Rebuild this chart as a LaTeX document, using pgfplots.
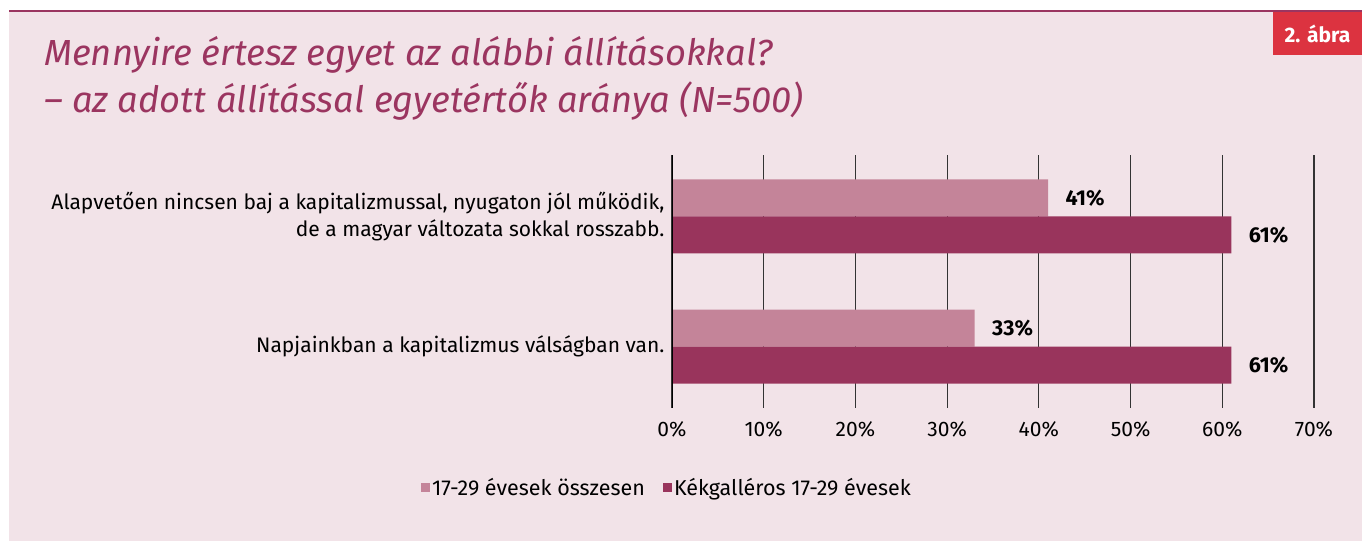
\documentclass[border=0pt]{standalone}
\usepackage{pgfplots}
\pgfplotsset{compat=1.18}
\usepackage{fontspec}
\setmainfont{Fira Sans}
\definecolor{bgpink}{HTML}{F2E3E8}
\definecolor{titlecol}{HTML}{9B3560}
\definecolor{lightbar}{HTML}{C48499}
\definecolor{darkbar}{HTML}{99345C}
\definecolor{badge}{HTML}{DC3340}
\definecolor{gridc}{HTML}{333333}
\begin{document}
\begin{tikzpicture}[x=1pt,y=1pt]
\fill[white] (0,0) rectangle (1362,-541);
\path[use as bounding box] (0,0) rectangle (1362,-541);
\fill[bgpink] (9,-11) rectangle (1362,-541);
\draw[titlecol, line width=2pt] (9,-11) -- (1362,-11);
\fill[badge] (1273,-12) rectangle (1362,-55);
\node[white, font=\fontsize{21}{24}\selectfont\bfseries] at (1317.5,-34) {2. ábra};
\node[anchor=base west, text=titlecol, font=\fontsize{36.3}{40}\selectfont\itshape, inner sep=0] at (44,-65) {Mennyire értesz egyet az alábbi állításokkal?};
\node[anchor=base west, text=titlecol, font=\fontsize{36.3}{40}\selectfont\itshape, inner sep=0] at (44,-112) {– az adott állítással egyetértők aránya (N=500)};
\begin{axis}[
  at={(672pt,-155pt)}, anchor=north west,
  width=642pt, height=253pt, scale only axis,
  xmin=0, xmax=70, ymin=-0.47, ymax=1.47, y dir=reverse,
  xbar, bar width=37pt,
  axis line style={draw=none},
  major tick length=0pt,
  xtick={0,10,...,70},
  xticklabel={\pgfmathprintnumber{\tick}\%},
  xticklabel style={font=\fontsize{21}{24}\selectfont, yshift=-10pt},
  ytick={0,1},
  yticklabels={{Alapvetően nincsen baj a kapitalizmussal, nyugaton jól működik,\\de a magyar változata sokkal rosszabb.},{Napjainkban a kapitalizmus válságban van.}},
  yticklabel style={align=right, font=\fontsize{21}{27}\selectfont, xshift=-4pt},
  xmajorgrids, grid style={gridc, line width=1.2pt},
  /pgf/number format/assume math mode=true,
  nodes near coords={\bfseries\pgfmathprintnumber{\pgfplotspointmeta}\%},
  nodes near coords style={font=\fontsize{21.5}{24}\selectfont, xshift=14pt, text=black},
  legend style={at={(axis description cs:-0.391,-0.316)}, anchor=west, draw=none, fill=none, font=\fontsize{21.5}{24}\selectfont, legend columns=2, /tikz/every even column/.append style={column sep=16pt}, inner sep=0pt},
  legend cell align=left,
  legend image code/.code={\fill[#1] (0pt,-4.5pt) rectangle (9pt,4.5pt);},
]
\addplot[fill=lightbar, draw=none, bar shift=18.5pt] coordinates {(41,0) (33,1)};
\addplot[fill=darkbar, draw=none, bar shift=-18.5pt] coordinates {(61,0) (61,1)};
\draw[black, line width=2pt] (axis cs:0,-0.47) -- (axis cs:0,1.47);
\legend{17-29 évesek összesen, Kékgalléros 17-29 évesek}
\end{axis}
\end{tikzpicture}
\end{document}
